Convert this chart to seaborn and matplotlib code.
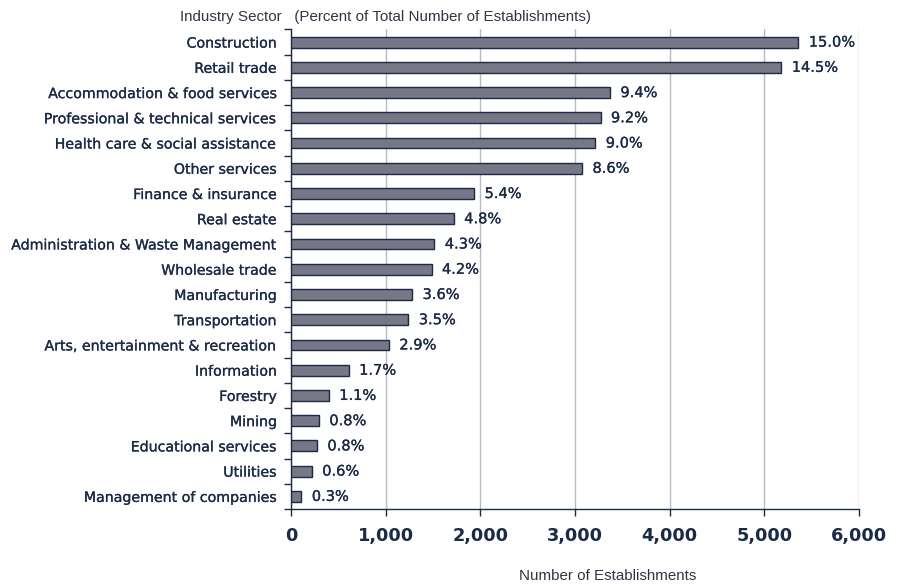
import numpy as np
import pandas as pd
import matplotlib
matplotlib.use("Agg")
import matplotlib.pyplot as plt
import matplotlib.patheffects as pe
import seaborn as sns

sectors = [
    "Construction", "Retail trade", "Accommodation & food services",
    "Professional & technical services", "Health care & social assistance",
    "Other services", "Finance & insurance", "Real estate",
    "Administration & Waste Management", "Wholesale trade", "Manufacturing",
    "Transportation", "Arts, entertainment & recreation", "Information",
    "Forestry", "Mining", "Educational services", "Utilities",
    "Management of companies",
]
establishments = [5360, 5180, 3370, 3270, 3215, 3075, 1935, 1720, 1515, 1485,
                  1280, 1240, 1035, 610, 400, 295, 275, 220, 110]
percent_labels = ["15.0%", "14.5%", "9.4%", "9.2%", "9.0%", "8.6%", "5.4%",
                  "4.8%", "4.3%", "4.2%", "3.6%", "3.5%", "2.9%", "1.7%",
                  "1.1%", "0.8%", "0.8%", "0.6%", "0.3%"]
x_ticks = [0, 1000, 2000, 3000, 4000, 5000, 6000]

navy = "#1b2a45"
heavier = [pe.withStroke(linewidth=0.18, foreground=navy)]
df = pd.DataFrame({"sector": sectors, "count": establishments})

sns.set_theme(style="white")
plt.rcParams["font.family"] = ["DejaVu Sans"]

fig = plt.figure(figsize=(9, 5.86), dpi=100)
ax = fig.add_axes([0.3233, 0.1314, 0.6311, 0.8183])

sns.barplot(data=df, x="count", y="sector", orient="h", ax=ax,
            color="#777788", saturation=1, width=0.43,
            edgecolor=navy, linewidth=1.0, zorder=3)

ax.set_xlim(0, 6000)
ax.set_ylim(18.5, -0.5)
ax.set_xticks(x_ticks)
ax.set_xticklabels([f"{v:,}" for v in x_ticks], fontsize=12.8,
                   fontweight="bold", color=navy)
ax.xaxis.grid(True, color="#b8b8c8", linewidth=1.0, zorder=0)
ax.yaxis.grid(False)

ax.set_yticks(range(len(sectors)))
ax.set_yticklabels(sectors, fontsize=10.2, color=navy)
for t in ax.get_yticklabels():
    t.set_path_effects(heavier)
ax.set_yticks(np.arange(-0.5, len(sectors), 1.0), minor=True)
ax.tick_params(axis="y", which="major", length=0, pad=10)
ax.tick_params(axis="y", which="minor", length=5, width=1, color=navy,
               direction="out", left=True)
ax.tick_params(axis="x", which="major", length=5, width=1, color=navy,
               direction="out", bottom=True, pad=8)

for side in ["top", "right"]:
    ax.spines[side].set_visible(False)
for side in ["left", "bottom"]:
    ax.spines[side].set_color(navy)
    ax.spines[side].set_linewidth(1.0)

ax.set_xlabel("")
ax.set_ylabel("")

for i, (v, lab) in enumerate(zip(establishments, percent_labels)):
    ax.text(v + 110, i, lab, va="center", ha="left", fontsize=10.5,
            color=navy, zorder=4, path_effects=heavier)

fig.text(180 / 900, 1 - 17 / 586,
         "Industry Sector   (Percent of Total Number of Establishments)",
         fontsize=10.9, family="Liberation Sans", color="#333344",
         ha="left", va="center")
fig.text(608 / 900, 1 - 576 / 586, "Number of Establishments",
         fontsize=10.9, family="Liberation Sans", color="#333344",
         ha="center", va="center")

fig.savefig("out.png", dpi=100)
